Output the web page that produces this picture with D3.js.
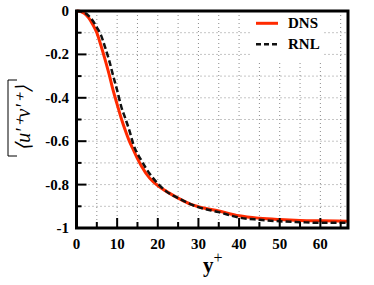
<!DOCTYPE html>
<html>
<head>
<meta charset="utf-8">
<script src="https://cdn.jsdelivr.net/npm/d3@7"></script>
<style>
  body { margin: 0; background: #fff; }
  svg { display: block; }
</style>
</head>
<body>
<svg id="chart" width="374" height="285"></svg>
<script>
// DNS curve (y+, <u'v'>)
const dnsY = [0, 1, 2, 3, 4, 5, 6, 7, 8, 9, 10, 11, 12, 13, 14, 15, 16, 18, 20, 22, 25, 28, 30, 35, 40, 45, 50, 55, 60, 66.8];
const dnsV = [0, -0.002, -0.012, -0.032, -0.062, -0.10, -0.158, -0.222, -0.29, -0.365, -0.43, -0.494, -0.55, -0.60, -0.64, -0.68, -0.715, -0.77, -0.805, -0.83, -0.862, -0.89, -0.902, -0.922, -0.944, -0.955, -0.961, -0.965, -0.967, -0.969];

// RNL curve
const rnlY = [0, 1, 2, 3, 4, 5, 6, 7, 8, 9, 10, 11, 12, 13, 14, 16, 18, 20, 22, 25, 28, 30, 35, 40, 45, 50, 55, 60, 66.8];
const rnlV = [0, -0.001, -0.008, -0.022, -0.045, -0.075, -0.11, -0.165, -0.225, -0.297, -0.365, -0.44, -0.494, -0.55, -0.615, -0.69, -0.75, -0.795, -0.83, -0.862, -0.89, -0.904, -0.927, -0.952, -0.962, -0.969, -0.973, -0.976, -0.976];

const xTicks = [0, 10, 20, 30, 40, 50, 60];
const yTicks = [0, -0.2, -0.4, -0.6, -0.8, -1];
const yTickLabels = ["0", "-0.2", "-0.4", "-0.6", "-0.8", "-1"];

const FONT = "'Liberation Serif', 'Times New Roman', Times, serif";

const svg = d3.select("#chart").attr("font-family", FONT);
const pL = 76.5, pR = 348, pT = 11, pB = 228;

const x = d3.scaleLinear().domain([0, 66.8]).range([pL, pR]);
const y = d3.scaleLinear().domain([-1, 0]).range([pB, pT]);

// dotted grid
const g = svg.append("g");
g.selectAll(".gx")
  .data(d3.range(5, 66, 5))
  .enter().append("line")
  .attr("x1", d => x(d)).attr("x2", d => x(d))
  .attr("y1", pT).attr("y2", pB)
  .style("stroke", "#8a8a8a").style("stroke-width", 1)
  .style("stroke-dasharray", "1,3");
g.selectAll(".gy")
  .data(d3.range(1, 10).map(i => -i / 10))
  .enter().append("line")
  .attr("x1", pL).attr("x2", pR)
  .attr("y1", d => y(d)).attr("y2", d => y(d))
  .style("stroke", "#8a8a8a").style("stroke-width", 1)
  .style("stroke-dasharray", "1,3");

// legend background hides grid
svg.append("rect")
  .attr("x", 252).attr("y", pT).attr("width", 71).attr("height", 49)
  .style("fill", "#fff");

const line = d3.line()
  .x(d => x(d[0])).y(d => y(d[1]))
  .curve(d3.curveMonotoneX);

svg.append("path")
  .datum(dnsY.map((d, i) => [d, dnsV[i]]))
  .attr("d", line)
  .style("fill", "none")
  .style("stroke", "#ff2a00")
  .style("stroke-width", 3);

svg.append("path")
  .datum(rnlY.map((d, i) => [d, rnlV[i]]))
  .attr("d", line)
  .style("fill", "none")
  .style("stroke", "#111")
  .style("stroke-width", 2.5)
  .style("stroke-dasharray", "6,3");

// ticks (inward)
svg.append("g").selectAll("line")
  .data(d3.range(5, 66, 5))
  .enter().append("line")
  .attr("x1", d => x(d)).attr("x2", d => x(d))
  .attr("y1", pB).attr("y2", d => pB - (d % 10 === 0 ? 10 : 6))
  .style("stroke", "#000").style("stroke-width", 2);
svg.append("g").selectAll("line")
  .data(d3.range(1, 10).map(i => -i / 10))
  .enter().append("line")
  .attr("y1", d => y(d)).attr("y2", d => y(d))
  .attr("x1", pL).attr("x2", (d, i) => pL + (i % 2 === 1 ? 10 : 5))
  .style("stroke", "#000").style("stroke-width", 2);

// frame
svg.append("rect")
  .attr("x", pL).attr("y", pT)
  .attr("width", pR - pL).attr("height", pB - pT)
  .style("fill", "none").style("stroke", "#000").style("stroke-width", 3);

// tick labels
svg.append("g").selectAll("text")
  .data(xTicks)
  .enter().append("text")
  .attr("x", d => x(d)).attr("y", 248.5)
  .attr("text-anchor", "middle")
  .style("font-family", FONT)
  .style("font-size", "15px").style("font-weight", "bold")
  .text(d => d);
svg.append("g").selectAll("text")
  .data(yTicks)
  .enter().append("text")
  .attr("x", 69).attr("y", d => y(d) + 5)
  .attr("text-anchor", "end")
  .style("font-family", FONT)
  .style("font-size", "15px").style("font-weight", "bold")
  .text((d, i) => yTickLabels[i]);

// axis titles
const xl = svg.append("text")
  .attr("x", 203).attr("y", 272)
  .style("font-family", FONT)
  .style("font-size", "21px").style("font-weight", "bold");
xl.append("tspan").text("y");
xl.append("tspan").attr("dy", -9).style("font-size", "16px").style("font-weight", "normal").text("+");

const yl = svg.append("g").attr("transform", "translate(30,118) rotate(-90)");
yl.append("text")
  .attr("text-anchor", "middle")
  .style("font-family", FONT)
  .style("font-size", "20px").style("font-style", "italic")
  .text("\u27E8u\u2032\u207Av\u2032\u207A\u27E9");
yl.append("path")
  .attr("d", "M-38,-13 L-38,-22 L38,-22 L38,-13")
  .style("fill", "none").style("stroke", "#000").style("stroke-width", 1);

// legend
const legend = [
  { label: "DNS", color: "#ff2a00", dash: null, w: 3, yy: 23.3 },
  { label: "RNL", color: "#111", dash: "5,3", w: 2.5, yy: 44.3 }
];
legend.forEach(l => {
  svg.append("line")
    .attr("x1", 256).attr("x2", 278).attr("y1", l.yy).attr("y2", l.yy)
    .style("stroke", l.color).style("stroke-width", l.w)
    .style("stroke-dasharray", l.dash);
  svg.append("text")
    .attr("x", 288).attr("y", l.yy + 5)
    .style("font-family", FONT)
    .style("font-size", "15px").style("font-weight", "bold")
    .text(l.label);
});
</script>
</body>
</html>
